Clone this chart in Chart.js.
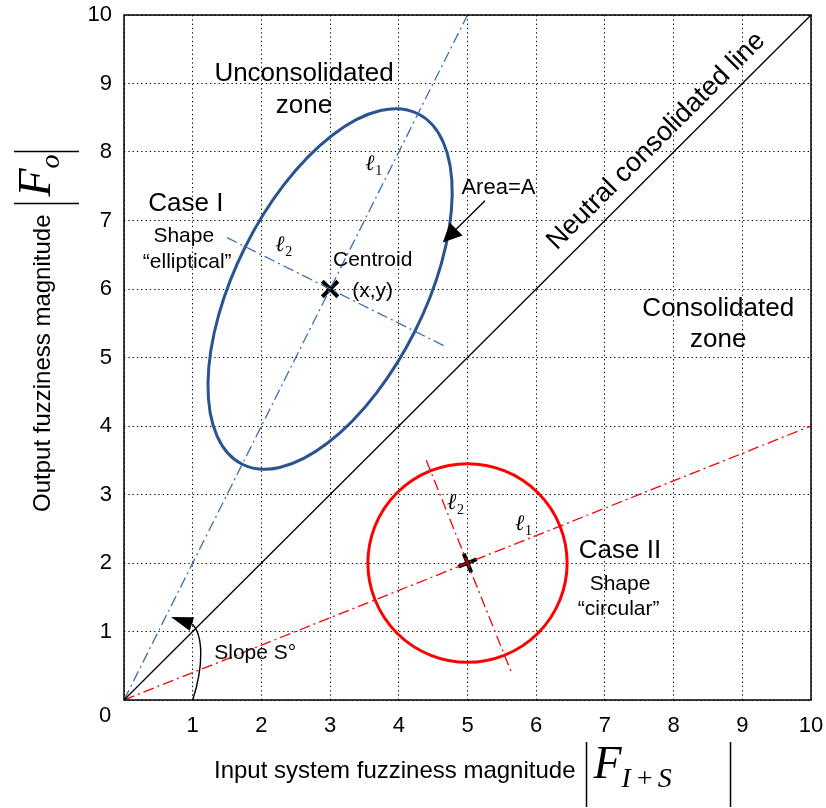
<!DOCTYPE html>
<html>
<head>
<meta charset="utf-8">
<script src="https://cdn.jsdelivr.net/npm/chart.js@4.4.1/dist/chart.umd.min.js"></script>
<style>
  html, body { margin: 0; padding: 0; background: #fff; }
  canvas { display: block; }
</style>
</head>
<body>
<canvas id="chart" width="826" height="808"></canvas>
<script>
// ---- data (axis units) ----
const axisMin = 0;
const axisMax = 10;

// neutral consolidated line y = x
const neutralX = [0, 10];
const neutralY = [0, 10];

// Case I: elliptical shape, principal axes l1 / l2
const caseIAxis1X = [0, 5];
const caseIAxis1Y = [0, 10];
const caseIAxis2X = [1.5, 4.66];
const caseIAxis2Y = [6.75, 5.17];
const caseISemiAxes = [2.86, 1.38];   // along l1, along l2

// Case II: circular shape
const caseIIAxis1X = [0, 10];
const caseIIAxis1Y = [0, 4];
const caseIIAxis2X = [4.4, 5.65];
const caseIIAxis2Y = [3.5, 0.375];
const caseIIRadius = [1.45];

// centroids (x, y)
const centroidX = [3, 5];
const centroidY = [6, 2];

const SANS = "'Liberation Sans', Arial, sans-serif";
const SERIF = "'Liberation Serif', 'DejaVu Serif', serif";
const BLUE_DARK = '#2a5490';
const BLUE_DASH = '#3b6db3';
const RED = '#ff0000';
const DASH_DOT = [11, 4, 2, 4];

const toPoints = (xs, ys) => xs.map((x, i) => ({ x, y: ys[i] }));

// text placed on the plot, positions in axis units (x = centre, y = baseline)
const notes = [
  { text: 'Unconsolidated', x: 2.62, y: 9.04, size: 26 },
  { text: 'zone', x: 2.62, y: 8.575, size: 26 },
  { text: 'Case I', x: 0.90, y: 7.14, size: 26 },
  { text: 'Shape', x: 0.87, y: 6.68, size: 21 },
  { text: '\u201celliptical\u201d', x: 0.92, y: 6.31, size: 21 },
  { text: 'Centroid', x: 3.62, y: 6.34, size: 21 },
  { text: '(x,y)', x: 3.62, y: 5.89, size: 21 },
  { text: 'Area=A', x: 5.45, y: 7.38, size: 22 },
  { text: 'Consolidated', x: 8.65, y: 5.61, size: 26 },
  { text: 'zone', x: 8.65, y: 5.15, size: 26 },
  { text: 'Case II', x: 7.22, y: 2.08, size: 26 },
  { text: 'Shape', x: 7.22, y: 1.61, size: 21 },
  { text: '\u201ccircular\u201d', x: 7.2, y: 1.24, size: 21 },
  { text: 'Slope S\u00b0', x: 1.91, y: 0.60, size: 21 }
];

// l1 / l2 axis names (x = left edge, y = baseline)
const axisNames = [
  { sub: '1', x: 3.51, y: 7.73 },
  { sub: '2', x: 2.20, y: 6.56 },
  { sub: '2', x: 4.70, y: 2.79 },
  { sub: '1', x: 5.69, y: 2.48 }
];

function drawArrowHead(ctx, tipX, tipY, fromX, fromY, len, half) {
  const ang = Math.atan2(tipY - fromY, tipX - fromX);
  const bx = tipX - len * Math.cos(ang), by = tipY - len * Math.sin(ang);
  ctx.beginPath();
  ctx.moveTo(tipX, tipY);
  ctx.lineTo(bx + half * Math.sin(ang), by - half * Math.cos(ang));
  ctx.lineTo(bx - half * Math.sin(ang), by + half * Math.cos(ang));
  ctx.closePath();
  ctx.fill();
}

// ellipse in axis units, rotated by `angle` (radians, axis space)
function strokeEllipse(chart, cx, cy, a, b, angle, color, width) {
  const { x, y } = chart.scales;
  const ctx = chart.ctx;
  const ux = x.getPixelForValue(1) - x.getPixelForValue(0);
  const uy = y.getPixelForValue(1) - y.getPixelForValue(0);
  ctx.save();
  ctx.translate(x.getPixelForValue(cx), y.getPixelForValue(cy));
  ctx.scale(ux, uy);
  ctx.rotate(angle);
  ctx.beginPath();
  ctx.ellipse(0, 0, a, b, 0, 0, 2 * Math.PI);
  ctx.restore();
  ctx.save();
  ctx.lineWidth = width;
  ctx.strokeStyle = color;
  ctx.stroke();
  ctx.restore();
}

// |F_sub| along the current baseline, left bar at u, right bar at u + closeAt
function drawMagnitude(ctx, u, sub, subSpacing, closeAt) {
  ctx.beginPath();
  ctx.moveTo(u, -36); ctx.lineTo(u, 29);
  ctx.moveTo(u + closeAt, -36); ctx.lineTo(u + closeAt, 29);
  ctx.stroke();
  ctx.font = 'italic 46px ' + SERIF;
  ctx.fillText('F', u + 7, 0);
  let s = u + 7 + ctx.measureText('F').width;
  ctx.font = 'italic 28px ' + SERIF;
  for (const ch of sub) {
    ctx.fillText(ch, s, 9);
    s += ctx.measureText(ch).width + subSpacing;
  }
}

const overlay = {
  id: 'overlay',
  beforeDatasetsDraw(chart) {
    const angI = Math.atan2(caseIAxis1Y[1] - caseIAxis1Y[0], caseIAxis1X[1] - caseIAxis1X[0]);
    strokeEllipse(chart, centroidX[0], centroidY[0], caseISemiAxes[0], caseISemiAxes[1], angI, BLUE_DARK, 3);
    strokeEllipse(chart, centroidX[1], centroidY[1], caseIIRadius[0], caseIIRadius[0], 0, RED, 3);
  },
  afterDatasetsDraw(chart) {
    const { ctx, chartArea: ca } = chart;
    const sx = chart.scales.x, sy = chart.scales.y;
    const px = v => sx.getPixelForValue(v);
    const py = v => sy.getPixelForValue(v);

    ctx.save();
    // frame
    ctx.strokeStyle = '#000';
    ctx.lineWidth = 1.5;
    ctx.strokeRect(ca.left, ca.top, ca.right - ca.left, ca.bottom - ca.top);

    ctx.fillStyle = '#000';
    ctx.textAlign = 'center';
    ctx.textBaseline = 'alphabetic';
    notes.forEach(n => {
      ctx.font = n.size + 'px ' + SANS;
      ctx.fillText(n.text, px(n.x), py(n.y));
    });

    // l1 / l2
    ctx.textAlign = 'left';
    axisNames.forEach(n => {
      const x0 = px(n.x), y0 = py(n.y);
      ctx.font = 'italic 22px ' + SERIF;
      ctx.fillText('\u2113', x0, y0);
      const w = ctx.measureText('\u2113').width;
      ctx.font = '14px ' + SERIF;
      ctx.fillText(n.sub, x0 + w + 1, y0 + 5);
    });

    // neutral line caption, parallel to y = x
    const ang = Math.atan2(py(neutralY[1]) - py(neutralY[0]), px(neutralX[1]) - px(neutralX[0]));
    ctx.save();
    ctx.translate(px(6.30), py(6.56));
    ctx.rotate(ang);
    ctx.font = '27px ' + SANS;
    ctx.fillText('Neutral consolidated line', 0, 0);
    ctx.restore();

    // Area=A pointer
    ctx.lineWidth = 1.4;
    const ax0 = px(5.255), ay0 = py(7.29), ax1 = px(4.64), ay1 = py(6.68);
    ctx.beginPath();
    ctx.moveTo(ax0, ay0);
    ctx.lineTo(ax1 + (ax0 - ax1) * 0.25, ay1 + (ay0 - ay1) * 0.25);
    ctx.stroke();
    drawArrowHead(ctx, ax1, ay1, ax0, ay0, 19, 9);

    // slope arc
    ctx.beginPath();
    ctx.moveTo(px(1), py(0));
    ctx.bezierCurveTo(px(1.165), py(0.51), px(1.15), py(0.95), px(0.993), py(1.108));
    ctx.stroke();
    drawArrowHead(ctx, px(0.684), py(1.21), px(0.993), py(1.108), 22, 7);

    // corner zero
    ctx.font = '22px ' + SANS;
    ctx.textAlign = 'center';
    ctx.textBaseline = 'middle';
    ctx.fillText('0', ca.left - 19, ca.bottom + 16);

    ctx.textAlign = 'left';
    ctx.textBaseline = 'alphabetic';
    ctx.lineWidth = 1.5;

    // x title: Input system fuzziness magnitude |F_{I+S}|
    ctx.save();
    ctx.translate(ca.left + 90, 778);
    ctx.font = '24px ' + SANS;
    const xt = 'Input system fuzziness magnitude';
    ctx.fillText(xt, 0, 0);
    drawMagnitude(ctx, ctx.measureText(xt).width + 11, 'I+S', 4, 144);
    ctx.restore();

    // y title: Output fuzziness magnitude |F_o|
    ctx.save();
    ctx.translate(50, 512);
    ctx.rotate(-Math.PI / 2);
    ctx.font = '24px ' + SANS;
    const yt = 'Output fuzziness magnitude';
    ctx.fillText(yt, 0, 0);
    drawMagnitude(ctx, ctx.measureText(yt).width + 11, 'o', 0, 52);
    ctx.restore();

    ctx.restore();
  }
};

const lineSet = (xs, ys, color, width, dash) => ({
  data: toPoints(xs, ys),
  showLine: true,
  borderColor: color,
  borderWidth: width,
  borderDash: dash || [],
  pointRadius: 0,
  pointHoverRadius: 0
});

const tickFont = { family: SANS, size: 22 };

new Chart(document.getElementById('chart'), {
  type: 'scatter',
  data: {
    datasets: [
      lineSet(neutralX, neutralY, '#000', 1.3),
      lineSet(caseIAxis1X, caseIAxis1Y, BLUE_DASH, 1.3, DASH_DOT),
      lineSet(caseIAxis2X, caseIAxis2Y, BLUE_DASH, 1.3, DASH_DOT),
      lineSet(caseIIAxis1X, caseIIAxis1Y, RED, 1.3, DASH_DOT),
      lineSet(caseIIAxis2X, caseIIAxis2Y, RED, 1.3, DASH_DOT),
      {
        data: toPoints(centroidX, centroidY),
        showLine: false,
        pointStyle: ['crossRot', 'cross'],
        pointRotation: [0, -22],
        pointRadius: [11, 10],
        pointBorderWidth: 4,
        pointBorderColor: '#000',
        pointBackgroundColor: '#000'
      }
    ]
  },
  options: {
    responsive: false,
    devicePixelRatio: 1,
    animation: false,
    events: [],
    layout: { padding: { top: 14, right: 15, left: 0, bottom: 0 } },
    plugins: { legend: { display: false }, tooltip: { enabled: false } },
    scales: {
      x: {
        type: 'linear',
        min: axisMin,
        max: axisMax,
        // fixed band height; tick labels may overhang the plot corners
        afterFit: s => { s.height = 108; s.paddingLeft = 0; s.paddingRight = 0; },
        border: { display: false, dash: [1.3, 3] },
        grid: { color: '#000', lineWidth: 1, drawTicks: false },
        ticks: {
          stepSize: 1, padding: 13, color: '#000', font: tickFont,
          maxRotation: 0, autoSkip: false,
          callback: v => (v === 0 ? '' : v)
        }
      },
      y: {
        type: 'linear',
        min: axisMin,
        max: axisMax,
        afterFit: s => { s.width = 124; s.paddingTop = 0; s.paddingBottom = 0; },
        border: { display: false, dash: [1.3, 3] },
        grid: { color: '#000', lineWidth: 1, drawTicks: false },
        ticks: {
          stepSize: 1, padding: 12, color: '#000', font: tickFont,
          autoSkip: false,
          callback: v => (v === 0 ? '' : v)
        }
      }
    }
  },
  plugins: [overlay]
});
</script>
</body>
</html>
